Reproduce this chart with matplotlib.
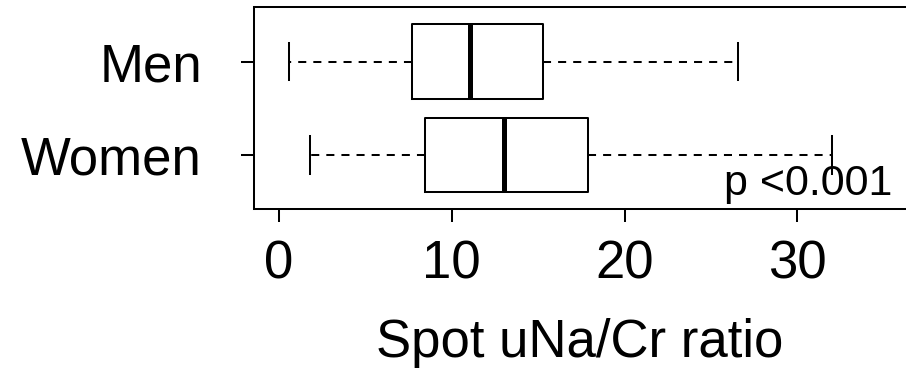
import matplotlib
matplotlib.use("Agg")
from matplotlib import pyplot as plt

plt.rcParams["font.family"] = ["Liberation Sans", "DejaVu Sans"]

# data (min, q1, median, q3, max)
groups = ["Women", "Men"]
whislo = [1.84, 0.61]
q1 = [8.47, 7.72]
med = [13.02, 11.09]
q3 = [17.87, 15.27]
whishi = [31.98, 26.54]
xticks = [0, 10, 20, 30]
p_text = "p <0.001"

stats = []
for i, g in enumerate(groups):
    stats.append(dict(label=g, whislo=whislo[i], q1=q1[i], med=med[i],
                      q3=q3[i], whishi=whishi[i], fliers=[]))

W, H = 906, 370
fig = plt.figure(figsize=(W / 100, H / 100), dpi=100)
# axes box: left 254px, top 7px, bottom 209px, right past the image edge
left, right, top, bottom = 254, 935, 7.3, 209.3
ax = fig.add_axes([left / W, 1 - bottom / H, (right - left) / W, (bottom - top) / H])

lw = 1.45
ax.bxp(stats, positions=[1, 2], widths=0.8, capwidths=0.4,
       orientation="horizontal", showfliers=False,
       boxprops=dict(color="black", linewidth=lw),
       whiskerprops=dict(color="black", linewidth=lw, linestyle=(0, (4, 3.5))),
       capprops=dict(color="black", linewidth=lw),
       medianprops=dict(color="black", linewidth=3.6, solid_capstyle="butt"))

# 17.3 px per unit, 0 at x=278.5px
ax.set_xlim(-1.42, 37.95)
ax.set_ylim(0.416, 2.584)
ax.set_xticks(xticks)
ax.set_xticklabels([str(t) for t in xticks])
ax.set_yticks([1, 2])
ax.set_yticklabels(groups)

for s in ax.spines.values():
    s.set_linewidth(lw)
ax.tick_params(axis="both", length=9.5, width=lw, labelsize=38)
ax.tick_params(axis="y", pad=28)
ax.tick_params(axis="x", pad=12)
ax.set_xlabel("Spot uNa/Cr ratio", fontsize=38)
# label centred at x=580px, baseline near y=357px
ax.xaxis.set_label_coords((580 - left) / (right - left), -(357 - bottom) / (bottom - top))
ax.xaxis.label.set_va("baseline")

fig.text(892.7 / W, 1 - 195 / H, p_text, fontsize=31,
         ha="right", va="baseline")

fig.savefig("out.png", dpi=100)
